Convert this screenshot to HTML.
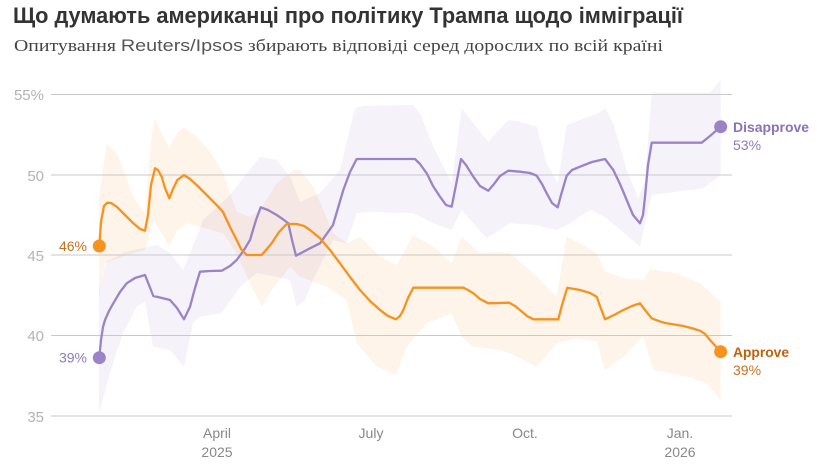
<!DOCTYPE html>
<html>
<head>
<meta charset="utf-8">
<style>
  html,body{margin:0;padding:0;background:#fff;}
  svg{display:block;}
  .band{mix-blend-mode:multiply;}
</style>
</head>
<body>
<svg width="817" height="472" viewBox="0 0 817 472" xmlns="http://www.w3.org/2000/svg">
  <rect width="817" height="472" fill="#fff"/>
  <!-- Title -->
  <text x="13" y="23" font-family="'Liberation Sans', 'Noto Sans CJK SC', sans-serif" font-weight="bold" font-size="22" fill="#333" textLength="670" lengthAdjust="spacingAndGlyphs">Що думають американці про політику Трампа щодо імміграції</text>
  <!-- Subtitle -->
  <text x="14" y="51" font-size="17" fill="#444" textLength="649" lengthAdjust="spacingAndGlyphs" font-family="'Liberation Serif', serif"><tspan font-family="'Liberation Serif', serif">Опитування </tspan><tspan font-family="'Liberation Sans', sans-serif" fill="#555">Reuters/Ipsos</tspan><tspan font-family="'Liberation Serif', serif"> збирають відповіді серед дорослих по всій країні</tspan></text>

  <!-- Bands -->
  <g>
    <polygon class="band" fill="#f5f2fa" points="99,292 106.7,261.7 125,252 143,248 156.7,245 170,253 183,270 196.7,236.7 203,220 230,195 260,156.7 276.7,160 290,176.7 300,201.7 320,193 340,170 355,108.3 363.3,106 413.3,105 420,113.3 433.3,146.7 451.7,183.3 461.7,108.3 473.3,123.3 488.3,141.7 508.3,120 520,121.7 536.7,126.7 546.7,163.3 557.7,183.3 566.7,125 580,120 598.3,113.3 605,108.3 613.3,123.3 626.7,170 638.3,198.3 645,180 651.7,92.7 710,92.7 720.7,80 720.7,175 703.3,188.3 651.7,195 645,223.3 640,246.7 616.7,226.7 605,216.7 590,210 570,223.3 556.7,230 536.7,225 510,223.3 486.7,238.3 473.3,223.3 461.7,210 451.7,230 433.3,223.3 413.3,213.3 366.7,211.7 356.7,213.3 346.7,243.3 333,240 313,280 305,300 296.7,306.7 290,280 276.7,276.7 256.7,273 240,286.7 221.7,313 200,316.7 193,323 184,366.7 170,350 153,346.7 145,301.7 136.7,306.7 123,333 110,373 99,413"/>
    <polygon class="band" fill="#fef4e9" points="99,196.7 106.7,143.3 116.7,153.3 133.3,196.7 145,213.3 151.7,135 155,118.3 161.7,133.3 169.3,148.3 177.3,133.3 184,127.7 196.7,136.7 210,151.7 223.3,173.3 236.7,211.7 250,216.7 260,210 276.7,183.3 293.3,170 300,170 313.3,186.7 333.3,233.3 346.7,243.3 360,236.7 380,256.7 396.7,265 413.3,235 433.3,246.7 451.7,263.3 461.7,236.7 480,253.3 500,251.7 510,253.3 533.3,273.3 556.7,296.7 566.7,236.7 580,243.3 596.7,253.3 605,271.7 623.3,278.3 643.3,280 650,269.3 676.7,273.3 700,283.3 720.7,301.7 720.7,400 706.7,383.3 686.7,376.7 653.3,370 643.3,336.7 623.3,356.7 605,370 596.7,341.7 576.7,338.3 556.7,343.3 536.7,366.7 510,353.3 500,350 473.3,346.7 461.7,336.7 451.7,313.3 426.7,323.3 406.7,346.7 396,375 376.7,366.7 356.7,343.3 346.7,300 326.7,286.7 300,276.7 290,266.7 271.7,290 261.7,306.7 250,283.3 236.7,253.3 223.3,233.3 200,226.7 186.7,223.3 177.3,230 169.3,246.7 161.7,233 153.3,220 145,250 133,253 105,263 99,296.7"/>
  </g>

  <!-- Grid -->
  <g stroke="#c9c9c9" stroke-width="1">
    <line x1="51" y1="94.5" x2="732" y2="94.5"/>
    <line x1="51" y1="175" x2="732" y2="175"/>
    <line x1="51" y1="255" x2="732" y2="255"/>
    <line x1="51" y1="335.5" x2="732" y2="335.5"/>
    <line x1="51" y1="416" x2="732" y2="416"/>
  </g>
  <g font-family="'Liberation Sans', sans-serif" font-size="15" fill="#b3b3b3" text-anchor="end">
    <text x="44" y="100">55%</text>
    <text x="44" y="181">50</text>
    <text x="44" y="261">45</text>
    <text x="44" y="341">40</text>
    <text x="44" y="422">35</text>
  </g>

  <!-- X axis labels -->
  <g font-family="'Liberation Sans', sans-serif" font-size="14" fill="#888" text-anchor="middle">
    <text x="217" y="438">April</text>
    <text x="217" y="457">2025</text>
    <text x="371" y="438">July</text>
    <text x="525" y="438">Oct.</text>
    <text x="680" y="438">Jan.</text>
    <text x="680" y="457">2026</text>
  </g>

  <!-- Lines -->
  <polyline fill="none" stroke="#9a84c6" stroke-width="2.3" stroke-linejoin="round" stroke-linecap="round" points="99.3,357.7 101,340 103,327 105,320 109,311 113.3,303.3 120,292 126.7,283.3 135,278 145,275 149,285 153.3,296 162,298 170,300 177,308 184,319.3 190,306.7 195,288 200,271.7 210,271 221.7,270.7 230,266 236.7,260 244,250 250,240 256,220 260.7,207.3 268,210 276.7,215 284,220 288.3,223.3 292,240 296,255.7 303,252 310,248.3 320,243.3 333,225 343.3,190 350,172 356.7,159 415,159 420,164 426.7,173.3 433,186 440,196.7 446,205 451.7,206.7 456,185 461,159 466,165 473.3,176.7 480,186 488.3,190.7 494,184 500,176 508.3,170.7 520,171.7 530,173 536.7,175.7 542,184 546.7,193.3 552,203 557.7,207.3 561,195 566.7,175.7 572,170 580,166.7 592,162 605,159 613.3,170 620,184 626.7,200 633,215 640,223.3 643,215 645,196.7 648,165 651.7,142.7 701.7,142.7 710,136 720.7,126.7"/>
  <polyline fill="none" stroke="#f7921e" stroke-width="2.3" stroke-linejoin="round" stroke-linecap="round" points="99.3,246 101,222 104,206 107.3,202.7 111,203 116.7,206.7 125,215 133.3,223.3 140,229 145,230.7 148,215 151,185 155,168.3 158,170 161.7,176.7 165,188 169.3,198.3 173,189 177.3,180 184,175 190,179 196.7,185 206.7,195 218.3,206.7 223,212 226.7,220 231,229 236.7,240 241,249 246.7,255 261.7,255 266,250 271.7,243.3 279,232 286.7,224 296.7,224 304,226 310,230 320,238.3 330,250 340,263.3 350,277 360,290 370,301 380,310 388,316 396,319.3 400,316 403.3,310 408,298 413.3,287.7 463.3,287.7 468,290 473.3,293.3 480,299 488.3,303.3 509.3,302.7 515,306 520,310 527,316 533.3,319.3 558.3,319.3 562,305 567.3,287.7 580,290 590,293 596.7,296.7 600,306 605,319.3 614,315 623.3,310 632,306 640,303.3 645,310 651.7,318.3 660,321.5 666.7,323.3 683.3,326 693,328.5 700,330.7 705,334 710,340 715,345.5 720.7,351.7"/>

  <!-- Dots -->
  <circle cx="99.3" cy="246" r="6.5" fill="#f7921e"/>
  <circle cx="99.3" cy="357.7" r="6.5" fill="#9a84c6"/>
  <circle cx="720.7" cy="351.7" r="6.5" fill="#f7921e"/>
  <circle cx="720.7" cy="126.7" r="6.5" fill="#9a84c6"/>

  <!-- Left labels -->
  <g font-family="'Liberation Sans', sans-serif" font-size="14" text-anchor="end">
    <text x="87" y="251" fill="#c9701f">46%</text>
    <text x="87" y="362.5" fill="#8e7bbd">39%</text>
  </g>
  <!-- Right labels -->
  <g font-family="'Liberation Sans', sans-serif" font-size="14">
    <text x="733" y="132" font-weight="bold" fill="#8a72b8" textLength="76" lengthAdjust="spacingAndGlyphs">Disapprove</text>
    <text x="733" y="150" fill="#8e7bbd">53%</text>
    <text x="733" y="357" font-weight="bold" fill="#c0620c" textLength="56" lengthAdjust="spacingAndGlyphs">Approve</text>
    <text x="733" y="375" fill="#c9701f">39%</text>
  </g>
</svg>
</body>
</html>
